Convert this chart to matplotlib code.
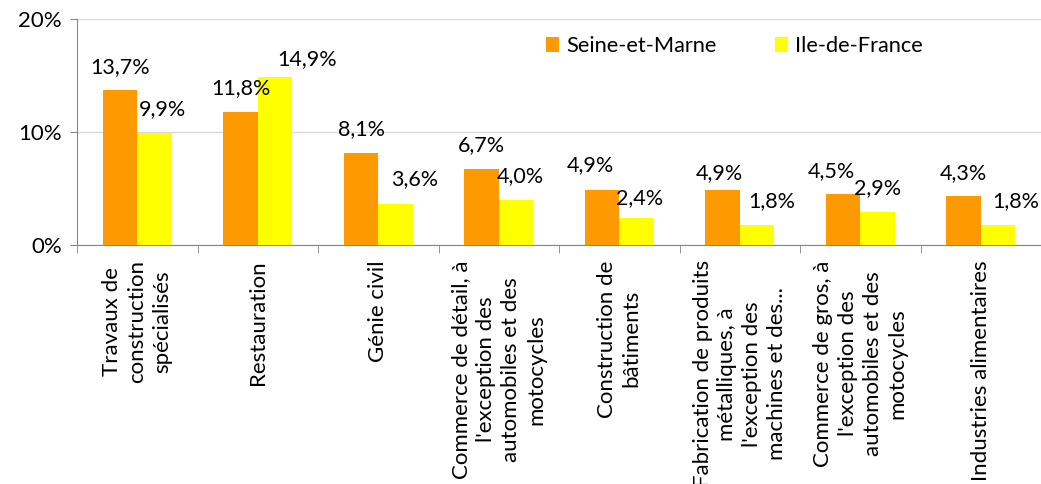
import numpy as np
import matplotlib
matplotlib.use("Agg")
import matplotlib.pyplot as plt
from matplotlib.ticker import FuncFormatter

plt.rcParams['font.family'] = ['Lato', 'DejaVu Sans']

# données
categories = [
    "Travaux de\nconstruction\nspécialisés",
    "Restauration",
    "Génie civil",
    "Commerce de détail, à\nl'exception des\nautomobiles et des\nmotocycles",
    "Construction de\nbâtiments",
    "Fabrication de produits\nmétalliques, à\nl'exception des\nmachines et des...",
    "Commerce de gros, à\nl'exception des\nautomobiles et des\nmotocycles",
    "Industries alimentaires",
]
seine_et_marne = [13.7, 11.8, 8.1, 6.7, 4.9, 4.9, 4.5, 4.3]
ile_de_france = [9.9, 14.9, 3.6, 4.0, 2.4, 1.8, 2.9, 1.8]
series_names = ["Seine-et-Marne", "Ile-de-France"]
colors = ["#FF9900", "#FFFF00"]

# décalages des étiquettes (pixels), placées à la main comme dans Excel
nudge_sm = [(0, 23), (0, 23), (0, 24), (0, 24), (-12, 24), (-3, 16), (-12, 23), (0, 23)]
nudge_idf = [(8, 24), (32, 17), (19, 25), (4, 24), (3, 20), (15, 23), (0, 24), (18, 23)]

fig = plt.figure(figsize=(10.41, 4.84), dpi=100)
ax = fig.add_axes([0.074, 0.494, 0.926, 0.467])

x = np.arange(len(categories))
w = 0.286
b1 = ax.bar(x - w / 2, seine_et_marne, w, color=colors[0], label=series_names[0], zorder=3)
b2 = ax.bar(x + w / 2, ile_de_france, w, color=colors[1], label=series_names[1], zorder=3)

def fmt(v):
    return f"{v:.1f}%".replace(".", ",")

for bars, vals, nudges in [(b1, seine_et_marne, nudge_sm), (b2, ile_de_france, nudge_idf)]:
    for r, v, d in zip(bars, vals, nudges):
        ax.annotate(fmt(v), (r.get_x() + r.get_width() / 2, v), xytext=d,
                    textcoords="offset pixels", ha="center", va="center",
                    fontsize=15.5, zorder=4)

ax.set_xlim(-0.5, len(categories) - 0.5)
ax.set_ylim(0, 20)
ax.set_yticks([0, 10, 20])
ax.yaxis.set_major_formatter(FuncFormatter(lambda v, p: f"{v:.0f}%"))
ax.grid(axis="y", color="#d9d9d9", linewidth=1, zorder=0)

ax.set_xticks(x)
ax.set_xticklabels(categories, rotation=90, ha="center", va="top",
                   multialignment="center", fontsize=16, linespacing=1.3)
ax.set_xticks(np.arange(len(categories) + 1) - 0.5, minor=True)
ax.tick_params(axis="x", which="major", length=0, pad=11)
ax.tick_params(axis="x", which="minor", length=6, color="#868686")
ax.tick_params(axis="y", length=5, color="#868686", labelsize=16, pad=6)

for s in ["top", "right"]:
    ax.spines[s].set_visible(False)
ax.spines["left"].set_color("#868686")
ax.spines["bottom"].set_color("#868686")

fig.legend(loc="center left", bbox_to_anchor=(0.506, 0.905), ncol=2, frameon=False,
           fontsize=15.7, handlelength=0.6, handleheight=0.7, handletextpad=0.3,
           columnspacing=2.7)

fig.savefig("out.png", dpi=100)
